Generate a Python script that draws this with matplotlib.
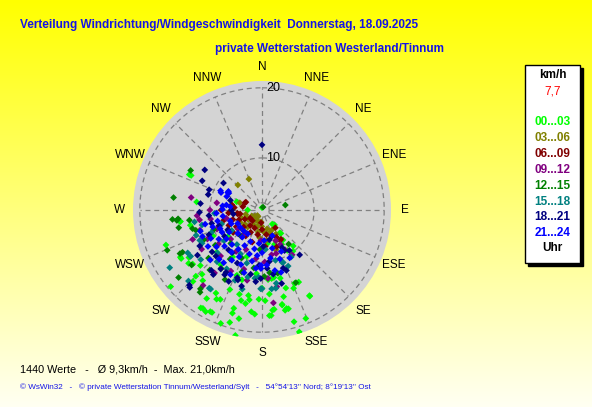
import numpy as np
import matplotlib
matplotlib.use("Agg")
import matplotlib.pyplot as plt
from matplotlib.patches import Rectangle

plt.rcParams['font.family'] = ['Liberation Sans', 'DejaVu Sans']

# wind readings per 3-hour block: (direction in degrees, speed in km/h)
h00 = [(296, 14.3), (296, 14.0), (277, 12.1), (262, 14.5), (258, 13.2), (262, 14.6), (250, 17.3),
       (240, 16.2), (239, 16.2), (234, 15.7), (237, 15.2), (230, 19.6), (232, 15.3), (228, 14.6),
       (225, 16.1), (223, 15.3), (220, 15.9), (224, 16.9), (212, 17.6), (209, 16.3), (205, 16.8),
       (207, 17.0), (202, 15.0), (195, 15.2), (193, 16.0), (190, 16.3), (188, 15.7), (189, 15.1),
       (186, 17.3), (196, 13.1), (201, 12.7), (185, 11.8), (212, 19.1), (209, 19.2), (207, 18.9),
       (211, 19.0), (206, 18.9), (200, 19.8), (196, 19.3), (196, 18.0), (192, 18.5), (192, 20.8),
       (196, 17.3), (184, 17.6), (175, 17.8), (173, 17.0), (178, 15.7), (166, 15.5), (167, 17.4),
       (166, 17.2), (168, 16.6), (165, 17.3), (164, 19.2), (163, 20.7), (163, 21.0), (158, 19.3),
       (151, 16.8), (158, 14.8), (153, 14.3), (156, 14.2), (163, 14.4), (165, 12.8), (175, 14.8),
       (182, 15.5), (168, 16.5), (174, 17.1), (176, 17.8), (151, 16.7), (180, 13.9), (175, 12.7),
       (170, 12.5), (172, 12.6), (143, 9.9), (140, 4.5), (141, 6.4), (144, 4.1), (142, 6.2),
       (148, 9.3), (139, 9.3), (270, 3.5), (288, 5.8), (0, 0.8), (212, 10.5), (227, 11.5),
       (242, 10.5), (198, 9.5), (217, 12.5), (232, 8.5), (160, 7.5), (150, 8.0), (170, 7.0),
       (145, 7.5)]
h03 = [(337, 7.0), (316, 7.2), (288, 5.2), (211, 2.1), (181, 3.9), (161, 5.3), (171, 6.5),
       (161, 8.4), (153, 5.0), (158, 6.0), (215, 3.0), (225, 3.0), (235, 4.0), (205, 3.0),
       (245, 4.0), (220, 5.0), (230, 5.0), (210, 4.0), (200, 3.0), (240, 3.0), (250, 5.0),
       (195, 4.0), (190, 5.0), (225, 6.0), (215, 6.0), (230, 2.5), (220, 2.0), (240, 5.5),
       (255, 4.0), (185, 3.0), (165, 4.5), (175, 5.0), (155, 7.0), (150, 6.0), (185, 6.0)]
h06 = [(296, 4.2), (293, 4.3), (270, 8.2), (262, 5.5), (261, 5.4), (149, 7.3), (184, 3.2),
       (143, 5.0), (147, 7.2), (217, 4.5), (227, 5.5), (237, 6.5), (247, 5.5), (207, 5.5),
       (232, 7.5), (252, 6.5), (242, 4.5), (222, 3.5), (260, 5.0), (212, 6.5), (197, 7.0),
       (255, 8.0), (265, 7.0), (202, 4.5), (275, 6.0), (280, 4.5), (245, 7.5), (235, 3.5),
       (190, 5.5), (160, 6.0), (280, 6.5), (170, 5.5), (158, 8.0), (180, 4.5), (152, 6.5),
       (175, 7.5)]
h09 = [(280, 13.0), (279, 9.0), (261, 11.7), (218, 16.4), (146, 10.3), (169, 13.9), (173, 16.1),
       (152, 7.9), (212, 9.5), (232, 10.5), (247, 9.5), (222, 11.5), (202, 8.5), (237, 13.0),
       (252, 12.0), (217, 6.5), (227, 8.5), (242, 11.5), (260, 10.0), (197, 11.5), (207, 12.5),
       (265, 12.0), (257, 7.5), (187, 9.5), (192, 13.0), (217, 14.0), (247, 13.5), (232, 6.5),
       (177, 10.0), (270, 10.0), (162, 9.0), (156, 7.0), (168, 9.0), (175, 12.5), (150, 9.0),
       (182, 6.5)]
h12 = [(299, 14.4), (278, 15.5), (264, 15.6), (264, 14.8), (263, 15.0), (258, 14.9), (262, 13.2),
       (253, 12.6), (247, 17.4), (242, 16.0), (242, 15.6), (232, 15.5), (231, 18.0), (218, 17.0),
       (217, 17.4), (221, 14.1), (215, 12.9), (78, 5.3), (142, 8.6), (166, 12.0), (155, 14.2),
       (178, 12.2), (173, 11.7), (238, 8.0), (223, 9.0), (213, 11.0), (233, 11.0), (248, 10.0),
       (203, 10.0), (218, 7.0), (243, 12.0), (228, 13.0), (198, 12.0), (255, 13.0), (188, 11.0),
       (183, 8.0), (208, 14.0), (20, 1.0)]
h15 = [(238, 18.2), (237, 14.9), (240, 15.0), (214, 16.2), (213, 16.2), (192, 12.5), (194, 14.4),
       (181, 14.0), (180, 14.0), (183, 12.3), (169, 13.4), (173, 14.1), (170, 14.1), (159, 10.6),
       (158, 10.7), (226, 17.3), (266, 9.3), (249, 12.8), (244, 12.6), (231, 9.5), (216, 8.5),
       (246, 10.5), (221, 12.5), (206, 9.5), (236, 7.5), (251, 8.5), (226, 11.5), (211, 12.5),
       (241, 12.5), (196, 10.5), (256, 11.5), (201, 13.5), (186, 12.5), (231, 14.0), (260, 12.5),
       (165, 10.0), (155, 11.5), (175, 8.0), (148, 10.5)]
h18 = [(0, 12.0), (305, 12.7), (296, 12.2), (305, 9.2), (291, 10.7), (286, 10.6), (287, 6.9),
       (276, 11.5), (268, 11.6), (264, 10.2), (270, 6.5), (262, 6.2), (140, 11.0), (151, 9.1),
       (224, 17.6), (223, 17.8), (217, 14.3), (210, 13.4), (199, 13.3), (181, 12.5), (165, 13.6),
       (215, 10.0), (225, 12.0), (235, 9.0), (205, 11.0), (240, 8.0), (220, 14.0), (200, 13.0),
       (230, 12.0), (245, 11.0), (210, 13.0), (190, 12.0), (250, 9.0), (225, 7.0), (215, 13.0),
       (235, 14.0), (195, 14.0), (185, 13.0), (205, 14.0), (220, 10.0), (240, 13.0), (255, 10.0),
       (175, 11.0), (170, 12.0), (152, 8.5), (160, 11.5), (172, 10.0), (178, 7.5), (166, 6.5),
       (158, 12.0), (183, 10.5), (146, 9.5)]
h21 = [(295, 9.0), (297, 7.6), (293, 8.8), (297, 7.8), (299, 7.8), (291, 7.7), (278, 7.4),
       (276, 6.7), (181, 10.5), (200, 7.0), (206, 8.0), (211, 9.0), (216, 10.0), (221, 9.0),
       (226, 10.0), (231, 9.0), (236, 10.0), (241, 9.0), (246, 9.0), (251, 10.0), (256, 9.0),
       (211, 11.0), (221, 12.0), (231, 11.0), (241, 11.0), (251, 12.0), (216, 7.0), (226, 7.0),
       (236, 8.0), (246, 7.0), (206, 10.0), (196, 9.0), (191, 10.0), (201, 11.0), (186, 11.0),
       (216, 12.0), (226, 13.0), (236, 12.0), (261, 8.0), (256, 11.0), (231, 6.0), (241, 6.0),
       (221, 6.0), (211, 6.0), (196, 12.0), (206, 13.0), (246, 12.0), (181, 11.0), (266, 9.0),
       (271, 8.0), (276, 8.0), (251, 7.0), (191, 8.0), (186, 9.0), (158, 6.0), (165, 8.0),
       (170, 9.5), (175, 10.5), (160, 10.0), (180, 8.5), (168, 11.5), (185, 7.0), (176, 6.5),
       (155, 9.0), (150, 10.5), (163, 12.0)]

groups = [h00, h03, h06, h09, h12, h15, h18, h21]
hour_labels = ['00...03', '03...06', '06...09', '09...12', '12...15', '15...18', '18...21', '21...24']
hour_colors = ['#00ff00', '#808000', '#800000', '#800080', '#008000', '#008080', '#000080', '#0000ff']
compass = ['N', 'NNE', 'NE', 'ENE', 'E', 'ESE', 'SE', 'SSE',
           'S', 'SSW', 'SW', 'WSW', 'W', 'WNW', 'NW', 'NNW']
ring_values = [2, 10, 20]
current_speed = '7,7'
n_values = 1440
mean_speed = '9,3'
max_speed = '21,0'

W, H = 592, 407
fig = plt.figure(figsize=(W / 100, H / 100), dpi=100)

# yellow gradient background
bg = fig.add_axes([0, 0, 1, 1])
grad = np.linspace(0, 1, 256).reshape(-1, 1)
top = np.array([1.0, 1.0, 0.0])
bottom = np.array([1.0, 1.0, 0.95])
img = top[None, None, :] * (1 - grad[:, :, None]) + bottom[None, None, :] * grad[:, :, None]
bg.imshow(img, aspect='auto', extent=[0, 1, 0, 1])
bg.set_axis_off()

# polar plot: centre (262, 210), radius 129 px
cx, cy, R = 262, 210, 129
ax = fig.add_axes([(cx - R) / W, (H - cy - R) / H, 2 * R / W, 2 * R / H], projection='polar')
ax.set_theta_zero_location('N')
ax.set_theta_direction(-1)
p = 1.23
ax.set_rscale('function', functions=(lambda v: np.power(np.clip(v, 0, None), p),
                                     lambda v: np.power(np.clip(v, 0, None), 1 / p)))
ax.set_rlim(0, 20.9)
ax.set_facecolor('#d4d4d4')
ax.spines['polar'].set_visible(False)
ax.grid(False)
ax.set_yticks([])

dirs = np.deg2rad(np.arange(0, 360, 22.5))
for t in dirs:
    ax.plot([t, t], [ring_values[0], ring_values[-1]], color='#808080', ls=(0, (4, 3)), lw=0.9)
circ = np.linspace(0, 2 * np.pi, 361)
for rv in ring_values:
    ax.plot(circ, np.full_like(circ, rv), color='#808080', ls=(0, (4, 3)), lw=0.9)
for rv in ring_values[1:]:
    ax.annotate(str(rv), (0, rv), xytext=(3, 0), textcoords='offset points',
                ha='left', va='center', fontsize=9)

ax.set_xticks(dirs)
ax.set_xticklabels(compass, fontsize=8.5)
ax.tick_params(axis='x', pad=-0.5)

for pts, c in zip(groups, hour_colors):
    d = np.deg2rad([q[0] for q in pts])
    s = [q[1] for q in pts]
    ax.scatter(d, s, s=12, marker='D', color=c, edgecolors='none', zorder=3)

# titles
blue = '#1414e6'
fig.text(20 / W, 1 - 25 / H, 'Verteilung Windrichtung/Windgeschwindigkeit  Donnerstag, 18.09.2025',
         color=blue, fontsize=8.45, fontweight='bold', va='center', ha='left')
fig.text(215 / W, 1 - 49 / H, 'private Wetterstation Westerland/Tinnum',
         color=blue, fontsize=8.45, fontweight='bold', va='center', ha='left')

# legend box with shadow
lx, ly, lw_, lh = 525, 65, 55, 198
fig.patches.append(Rectangle(((lx + 3) / W, 1 - (ly + lh + 3) / H), lw_ / W, lh / H,
                             transform=fig.transFigure, facecolor='black', edgecolor='black'))
fig.patches.append(Rectangle((lx / W, 1 - (ly + lh) / H), lw_ / W, lh / H,
                             transform=fig.transFigure, facecolor='white', edgecolor='black', lw=1))
mx = (lx + lw_ / 2) / W
fig.text(mx, 1 - 75 / H, 'km/h', fontsize=8.5, fontweight='bold', ha='center', va='center')
fig.text(mx, 1 - 92 / H, current_speed, fontsize=8.5, color='red', ha='center', va='center')
for i, (lab, c) in enumerate(zip(hour_labels, hour_colors)):
    fig.text(mx, 1 - (122 + i * 15.9) / H, lab, fontsize=8.5, fontweight='bold', color=c,
             ha='center', va='center')
fig.text(mx, 1 - 248 / H, 'Uhr', fontsize=8.5, fontweight='bold', ha='center', va='center')

fig.text(20 / W, 1 - 369 / H, f'{n_values} Werte   -   Ø {mean_speed}km/h  -  Max. {max_speed}km/h',
         fontsize=7.8, ha='left', va='center')
fig.text(20 / W, 1 - 387 / H,
         "© WsWin32   -   © private Wetterstation Tinnum/Westerland/Sylt   -   54°54'13'' Nord; 8°19'13'' Ost",
         fontsize=5.85, color=blue, ha='left', va='center')

fig.savefig('out.png', dpi=100)
